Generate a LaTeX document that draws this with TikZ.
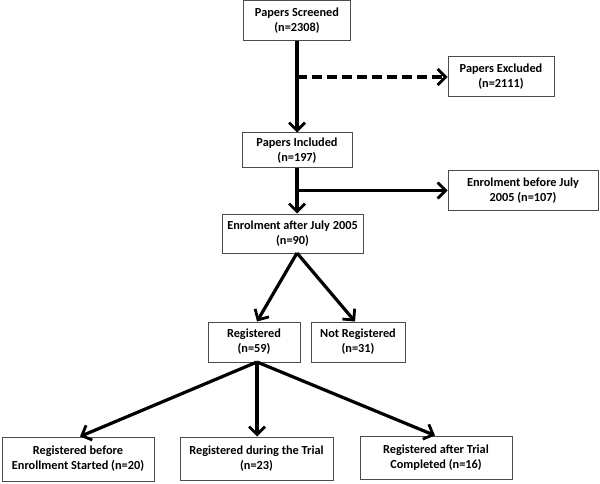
\documentclass[tikz,border=0pt]{standalone}
\usepackage{fontspec}
\setmainfont{Carlito}
\usetikzlibrary{arrows.meta}
\begin{document}
\begin{tikzpicture}[x=1pt,y=-1pt,
  box/.style={draw=black!70,line width=1pt,align=center,inner sep=0pt,
    font=\bfseries\fontsize{12.3}{15}\selectfont},
  arr/.style={line width=3.2pt,-{Straight Barb[length=8pt,width=16pt,line width=2.8pt]}},
  dsh/.style={arr,dash pattern=on 10pt off 5pt}]
\useasboundingbox (0,0) rectangle (600,484);
\node[box,minimum width=107pt,minimum height=40pt] (scr) at (297,20.5) {Papers Screened\\(n=2308)};
\node[box,minimum width=106pt,minimum height=40pt] (exc) at (501,77) {Papers Excluded\\(n=2111)};
\node[box,minimum width=110pt,minimum height=35pt] (inc) at (297,150.5) {Papers Included\\(n=197)};
\node[box,minimum width=150pt,minimum height=39pt] (bef) at (523,190.5) {Enrolment before July\\2005 (n=107)};
\node[box,minimum width=141pt,minimum height=39pt] (aft) at (292.5,233.5) {Enrolment after July 2005\\(n=90)};
\node[box,minimum width=92pt,minimum height=40pt] (reg) at (254,342) {Registered\\(n=59)};
\node[box,minimum width=94pt,minimum height=40pt] (nreg) at (358,342) {Not Registered\\(n=31)};
\node[box,minimum width=152pt,minimum height=44pt] (b1) at (78,459) {Registered before\\Enrollment Started (n=20)};
\node[box,minimum width=153pt,minimum height=43pt] (b2) at (256.5,458.5) {Registered during the Trial\\(n=23)};
\node[box,minimum width=152pt,minimum height=43pt] (b3) at (436,457.5) {Registered after Trial\\Completed (n=16)};
\coordinate (j1) at (297,77);
\coordinate (j2) at (297,190.5);
\coordinate (s1) at (297,253);
\coordinate (s2) at (257,362);
\draw[arr] (scr.south) -- (inc.north);
\draw[dsh] (j1) -- (exc.west);
\draw[arr] (inc.south) -- (aft.north -| inc.south);
\draw[arr] (j2) -- (bef.west);
\draw[arr] (s1) -- (reg.north -| 257,0);
\draw[arr] (s1) -- (nreg.north -| 355,0);
\draw[arr] (s2) -- (b1.north -| 80,0);
\draw[arr] (s2) -- (b2.north -| s2);
\draw[arr] (s2) -- (b3.north -| 435,0);
\end{tikzpicture}
\end{document}
